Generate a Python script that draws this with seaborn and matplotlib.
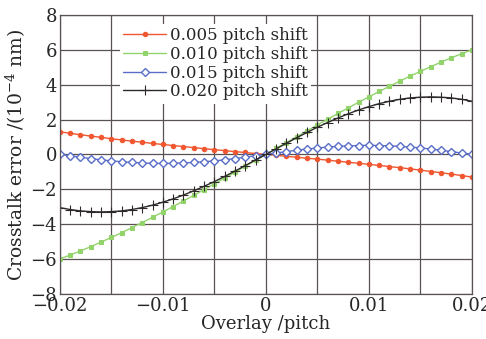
import numpy as np
import pandas as pd
import seaborn as sns
import matplotlib.pyplot as plt
from matplotlib.ticker import MultipleLocator

# Overlay positions (pitch), step 0.001
overlay = [round(-0.02 + 0.001 * i, 3) for i in range(41)]

# Values, positive half (x = 0.000 ... 0.020); curves are odd
red_pos = [0.00, -0.05, -0.11, -0.16, -0.22, -0.27, -0.33, -0.39, -0.45, -0.51, -0.57,
           -0.63, -0.70, -0.76, -0.83, -0.90, -0.98, -1.05, -1.13, -1.21, -1.30]
green_pos = [0.00, 0.34, 0.68, 1.02, 1.35, 1.69, 2.02, 2.35, 2.67, 2.99, 3.30,
             3.61, 3.91, 4.20, 4.49, 4.76, 5.03, 5.29, 5.54, 5.77, 6.00]
blue_pos = [0.00, 0.08, 0.16, 0.24, 0.31, 0.37, 0.42, 0.46, 0.49, 0.51, 0.52,
            0.51, 0.49, 0.46, 0.42, 0.37, 0.31, 0.24, 0.16, 0.08, 0.00]
black_pos = [0.00, 0.32, 0.64, 0.96, 1.26, 1.56, 1.83, 2.09, 2.33, 2.55, 2.74,
             2.91, 3.05, 3.16, 3.24, 3.28, 3.30, 3.28, 3.24, 3.16, 3.05]


def full(pos):
    return [-v for v in pos[:0:-1]] + pos


labels = ['0.005 pitch shift', '0.010 pitch shift', '0.015 pitch shift', '0.020 pitch shift']
series = [full(red_pos), full(green_pos), full(blue_pos), full(black_pos)]

sns.set_style('white')
plt.rcParams['font.family'] = ['DejaVu Serif']
plt.rcParams['mathtext.fontset'] = 'dejavuserif'

fig, ax = plt.subplots(figsize=(4.86, 3.39), dpi=100)
fig.subplots_adjust(left=0.123, right=0.971, top=0.956, bottom=0.133)

styles = [
    dict(color='#f0562f', marker='o', markersize=3.2, markerfacecolor='#f0562f', markeredgecolor='#f0562f', lw=1.0),
    dict(color='#93d36c', marker='s', markersize=3.5, markerfacecolor='#93d36c', markeredgecolor='#93d36c', lw=1.0),
    dict(color='#5a6ec8', marker='D', markersize=4.2, markerfacecolor='white', markeredgecolor='#5a6ec8',
         markeredgewidth=1.0, lw=1.0),
    dict(color='#2e2a2a', marker='+', markersize=6.5, markeredgecolor='#2e2a2a', markeredgewidth=0.8, lw=1.0),
]

for lab, vals, st in zip(labels, series, styles):
    df = pd.DataFrame({'x': overlay, 'y': vals})
    sns.lineplot(data=df, x='x', y='y', ax=ax, label=lab, **st)

ax.set_xlim(-0.02, 0.02)
ax.set_ylim(-8, 8)
ax.set_xticks([-0.02, -0.01, 0, 0.01, 0.02])
ax.set_xticklabels(['\u22120.02', '\u22120.01', '0', '0.01', '0.02'])
ax.xaxis.set_minor_locator(MultipleLocator(0.005))
ax.set_yticks(np.arange(-8, 9, 2))
ax.set_yticklabels(['\u22128', '\u22126', '\u22124', '\u22122', '0', '2', '4', '6', '8'])
ax.grid(True, which='both', color='#5a5252', lw=0.9)
ax.set_axisbelow(True)
ax.tick_params(axis='both', which='both', length=0, labelsize=13, pad=2)
for sp in ax.spines.values():
    sp.set_color('#5a5252')
    sp.set_linewidth(0.9)

ax.set_xlabel('Overlay /pitch', fontsize=13, labelpad=0)
ax.set_ylabel(r'Crosstalk error /(10$^{-4}$ nm)', fontsize=13.5, labelpad=2)

leg = ax.legend(loc='upper left', bbox_to_anchor=(0.145, 0.968), fontsize=12, frameon=True,
                framealpha=1, edgecolor='white', fancybox=False, labelspacing=0.1,
                handlelength=2.6, handletextpad=0.2, borderpad=0.2, borderaxespad=0)
leg.get_frame().set_linewidth(0)

fig.savefig('out.png', dpi=100)
